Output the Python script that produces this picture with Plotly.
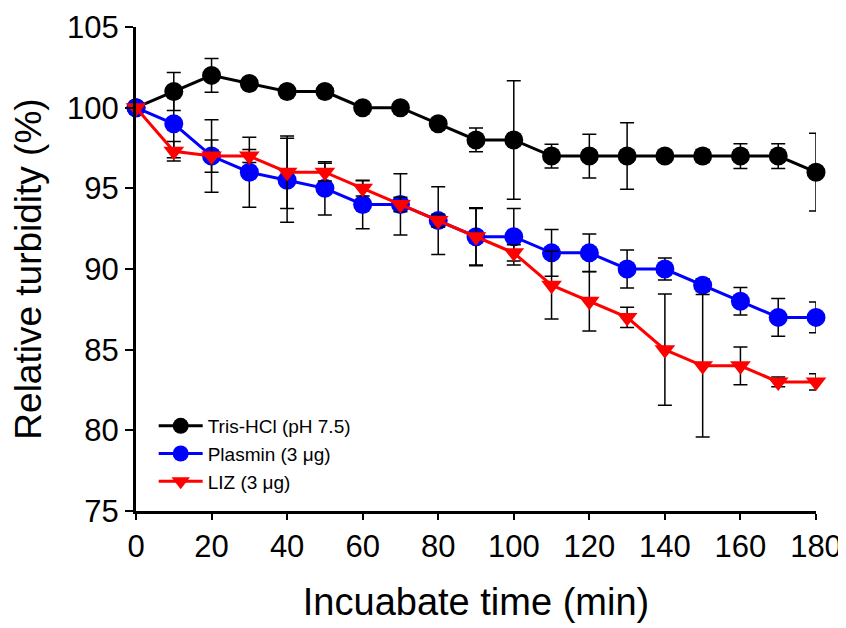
import plotly.graph_objects as go

time = [0, 10, 20, 30, 40, 50, 60, 70, 80, 90, 100, 110, 120, 130, 140, 150, 160, 170, 180]

tris = [100, 101, 102, 101.5, 101, 101, 100, 100, 99, 98, 98, 97, 97, 97, 97, 97, 97, 97, 96]
tris_err = [0, 1.18, 1.05, 0.3, 0.3, 0.3, 0.3, 0.3, 0.3, 0.74, 3.67, 0.74, 1.36, 2.06, 0.3, 0.4, 0.77, 0.77, 2.41]

plasmin = [100, 99, 97, 96, 95.5, 95, 94, 94, 93, 92, 92, 91, 91, 90, 90, 89, 88, 87, 87]
plasmin_err = [0, 2.1, 2.25, 2.17, 2.6, 1.65, 1.5, 1.9, 2.1, 1.8, 1.75, 1.45, 1.17, 1.17, 0.68, 0.4, 0.85, 1.17, 0.95]

liz = [100, 97.3, 97, 97, 96, 96, 95, 94, 93, 92, 91, 89, 88, 87, 85, 84, 84, 83, 83]
liz_err = [0, 0.6, 1.0, 0.4, 2.25, 0.55, 0.47, 0.45, 0.4, 1.75, 0.5, 2.1, 1.85, 0.63, 3.45, 4.42, 1.17, 0.3, 0.5]

names = ["Tris-HCl (pH 7.5)", "Plasmin (3 μg)", "LIZ (3 μg)"]
colors = ["#000000", "#0000ff", "#ff0000"]
symbols = ["circle", "circle", "triangle-down"]
sizes = [19, 19, 18]

x_ticks = [0, 20, 40, 60, 80, 100, 120, 140, 160, 180]
y_ticks = [75, 80, 85, 90, 95, 100, 105]

FONT = "Liberation Sans, Arial, sans-serif"

fig = go.Figure()
for vals, errs, name, col, sym, sz in zip([tris, plasmin, liz], [tris_err, plasmin_err, liz_err],
                                         names, colors, symbols, sizes):
    fig.add_trace(go.Scatter(
        x=time, y=vals, name=name, mode="lines+markers",
        line=dict(color=col, width=3),
        marker=dict(color=col, symbol=sym, size=sz, line=dict(width=0)),
        error_y=dict(type="data", array=errs, visible=True, color="black", thickness=1.5, width=7),
        cliponaxis=False,
    ))

fig.update_layout(
    width=846, height=628,
    margin=dict(l=128, r=38, t=19, b=125, autoexpand=False),
    paper_bgcolor="white", plot_bgcolor="white",
    font=dict(family=FONT, color="black"),
    showlegend=True,
    legend=dict(x=0.026, y=0.215, xanchor="left", yanchor="top",
                font=dict(size=19, family=FONT), bgcolor="rgba(0,0,0,0)",
                tracegroupgap=0, itemwidth=44),
    xaxis=dict(range=[0, 180], tickvals=x_ticks, showgrid=False, zeroline=False,
               automargin=False, ticklabeloverflow="allow",
               showline=True, linecolor="black", linewidth=3,
               ticks="outside", ticklen=6, tickwidth=2, tickcolor="black",
               tickfont=dict(size=31, family=FONT),
               title=dict(text="Incuabate time (min)", font=dict(size=38, family=FONT), standoff=26)),
    yaxis=dict(range=[75, 105], tickvals=y_ticks, showgrid=False, zeroline=False,
               automargin=False, ticklabeloverflow="allow",
               showline=True, linecolor="black", linewidth=3,
               ticks="outside", ticklen=8, tickwidth=2, tickcolor="black",
               tickfont=dict(size=31, family=FONT),
               title=dict(text="Relative turbidity (%)", font=dict(size=37, family=FONT), standoff=16)),
)

fig.write_html("out.html")
